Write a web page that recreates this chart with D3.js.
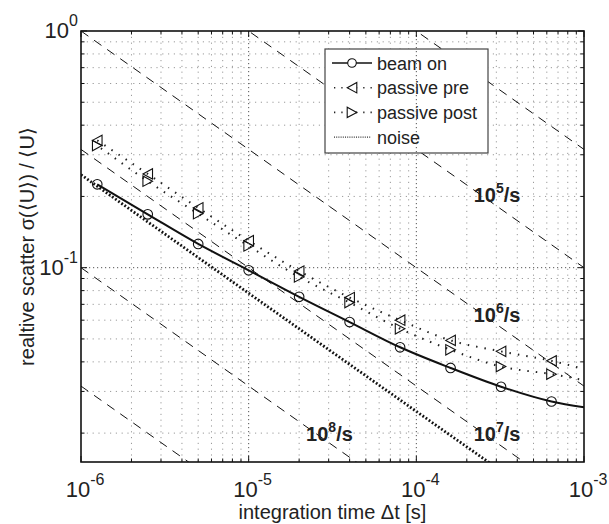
<!DOCTYPE html>
<html>
<head>
<meta charset="utf-8">
<script src="https://cdn.jsdelivr.net/npm/d3@7"></script>
<style>
  body { margin: 0; background: #fff; }
  text { font-family: "Liberation Sans", Arial, Helvetica, sans-serif; }
</style>
</head>
<body>
<svg id="chart"></svg>
<script>
// measured points (integration time in s, relative scatter)
let dt = [1.25e-6, 2.5e-6, 5e-6, 1e-5, 2e-5, 4e-5, 8e-5, 1.6e-4, 3.2e-4, 6.4e-4];
let beamOn = [0.225, 0.168, 0.126, 0.0975, 0.0753, 0.0589, 0.0461, 0.0377, 0.0314, 0.0272];
let passivePre = [0.345, 0.249, 0.179, 0.130, 0.0968, 0.0748, 0.0600, 0.0493, 0.0443, 0.0404];
let passivePost = [0.328, 0.232, 0.169, 0.1235, 0.0914, 0.0712, 0.0552, 0.0450, 0.0382, 0.0355];

// fitted curves continue to the right border
let fitEndDt = 1e-3;
let beamOnEnd = 0.0257;
let passivePreEnd = 0.0373;
let passivePostEnd = 0.0335;

// noise floor line
let noiseDt = [1e-6, 1e-5, 1e-4, 2.8e-4];
let noise = [0.247, 0.078, 0.0247, 0.0148];

// counting-statistics reference lines: value at dt = 1e-6 and at dt = 1e-3
let rates = ["4", "5", "6", "7", "8", "9"];
let rateStart = [10, 3.16, 1, 0.316, 0.1, 0.0316];
let rateEnd = [0.316, 0.1, 0.0316, 0.01, 0.00316, 0.001];
let rateLabels = [
  {exp: "5", dt: 2.2e-4, y: 0.19},
  {exp: "6", dt: 2.2e-4, y: 0.059},
  {exp: "7", dt: 2.2e-4, y: 0.0185},
  {exp: "8", dt: 2.2e-5, y: 0.0185}
];

let xTicks = [1e-6, 1e-5, 1e-4, 1e-3];
let xTickExp = ["-6", "-5", "-4", "-3"];
let yTicks = [1e-1, 1];
let yTickExp = ["-1", "0"];

let width = 609, height = 524;
let margin = {top: 31, right: 25, bottom: 62, left: 81};
let plotW = width - margin.left - margin.right;
let plotH = height - margin.top - margin.bottom;

let svg = d3.select("#chart")
    .attr("width", width)
    .attr("height", height);

let x = d3.scaleLog().domain([1e-6, 1e-3]).range([0, plotW]);
let y = d3.scaleLog().domain([0.0151, 1]).range([plotH, 0]);

let defs = svg.append("defs");
defs.append("clipPath").attr("id", "plotClip")
  .append("rect").attr("width", plotW).attr("height", plotH);

let g = svg.append("g")
    .attr("transform", "translate(" + margin.left + "," + margin.top + ")");

// minor grid
let minorX = [];
let minorY = [];
[1e-6, 1e-5, 1e-4].forEach(d => { for (let k = 2; k <= 9; k++) minorX.push(d * k); });
[0.01, 0.1].forEach(d => { for (let k = 2; k <= 9; k++) if (d * k > 0.0151) minorY.push(d * k); });

g.selectAll(".gridx")
    .data(minorX)
  .enter().append("line")
    .attr("class", "gridx")
    .attr("x1", d => x(d)).attr("x2", d => x(d))
    .attr("y1", 0).attr("y2", plotH)
    .attr("stroke", "#9a9a9a")
    .attr("stroke-width", 1)
    .attr("stroke-dasharray", "1.2,4.6");

g.selectAll(".gridy")
    .data(minorY)
  .enter().append("line")
    .attr("class", "gridy")
    .attr("y1", d => y(d)).attr("y2", d => y(d))
    .attr("x1", 0).attr("x2", plotW)
    .attr("stroke", "#9a9a9a")
    .attr("stroke-width", 1)
    .attr("stroke-dasharray", "1.2,4.6");

g.selectAll(".majory")
    .data([0.1])
  .enter().append("line")
    .attr("class", "majory")
    .attr("y1", d => y(d)).attr("y2", d => y(d))
    .attr("x1", 0).attr("x2", plotW)
    .attr("stroke", "#555")
    .attr("stroke-width", 1)
    .attr("stroke-dasharray", "1.2,2.8");

let plot = g.append("g").attr("clip-path", "url(#plotClip)");

let line = d3.line()
    .x(d => x(d[0]))
    .y(d => y(d[1]));

let smooth = d3.line()
    .x(d => x(d[0]))
    .y(d => y(d[1]))
    .curve(d3.curveMonotoneX);

// reference lines
plot.selectAll(".rate")
    .data(rates.map((r, i) => [[1e-6, rateStart[i]], [1e-3, rateEnd[i]]]))
  .enter().append("path")
    .attr("class", "rate")
    .attr("d", line)
    .attr("fill", "none")
    .attr("stroke", "#111")
    .attr("stroke-width", 1)
    .attr("stroke-dasharray", "9,7");

// noise
plot.append("path")
    .datum(noiseDt.map((d, i) => [d, noise[i]]))
    .attr("d", line)
    .attr("fill", "none")
    .attr("stroke", "#111")
    .attr("stroke-width", 2.8)
    .attr("stroke-dasharray", "1.8,2");

// passive curves
let preData = dt.map((d, i) => [d, passivePre[i]]).concat([[fitEndDt, passivePreEnd]]);
let postData = dt.map((d, i) => [d, passivePost[i]]).concat([[fitEndDt, passivePostEnd]]);

plot.append("path")
    .datum(preData)
    .attr("d", smooth)
    .attr("fill", "none")
    .attr("stroke", "#222")
    .attr("stroke-width", 2)
    .attr("stroke-dasharray", "1.5,7");

plot.append("path")
    .datum(postData)
    .attr("d", smooth)
    .attr("fill", "none")
    .attr("stroke", "#222")
    .attr("stroke-width", 2)
    .attr("stroke-dasharray", "1.5,7")
    .attr("stroke-dashoffset", 4);

// beam on
plot.append("path")
    .datum(dt.map((d, i) => [d, beamOn[i]]).concat([[fitEndDt, beamOnEnd]]))
    .attr("d", smooth)
    .attr("fill", "none")
    .attr("stroke", "#111")
    .attr("stroke-width", 2);

let triLeft = "M-4.8,0 L4.8,-5.2 L4.8,5.2 Z";
let triRight = "M4.8,0 L-4.8,-5.2 L-4.8,5.2 Z";

plot.selectAll(".pre")
    .data(passivePre)
  .enter().append("path")
    .attr("class", "pre")
    .attr("d", triLeft)
    .attr("transform", (d, i) => "translate(" + x(dt[i]) + "," + y(d) + ")")
    .attr("fill", "none")
    .attr("stroke", "#111")
    .attr("stroke-width", 1.1);

plot.selectAll(".post")
    .data(passivePost)
  .enter().append("path")
    .attr("class", "post")
    .attr("d", triRight)
    .attr("transform", (d, i) => "translate(" + x(dt[i]) + "," + y(d) + ")")
    .attr("fill", "none")
    .attr("stroke", "#111")
    .attr("stroke-width", 1.1);

plot.selectAll(".beam")
    .data(beamOn)
  .enter().append("circle")
    .attr("class", "beam")
    .attr("cx", (d, i) => x(dt[i]))
    .attr("cy", d => y(d))
    .attr("r", 4.8)
    .attr("fill", "none")
    .attr("stroke", "#111")
    .attr("stroke-width", 1.1);

// rate labels
let rl = g.selectAll(".rateLabel")
    .data(rateLabels)
  .enter().append("text")
    .attr("class", "rateLabel")
    .attr("x", d => x(d.dt))
    .attr("y", d => y(d.y))
    .attr("font-size", 20)
    .attr("font-weight", "bold")
    .attr("fill", "#222");
rl.append("tspan").text("10");
rl.append("tspan").text(d => d.exp).attr("font-size", 14).attr("dy", -9);
rl.append("tspan").text("/s").attr("dy", 9);

// legend
let legend = g.append("g").attr("transform", "translate(" + (325 - margin.left) + "," + (49 - margin.top) + ")");
legend.append("rect")
    .attr("width", 163).attr("height", 104)
    .attr("fill", "#fff")
    .attr("stroke", "#444")
    .attr("stroke-width", 1.2);

let legendItems = ["beam on", "passive pre", "passive post", "noise"];
legendItems.forEach((name, i) => {
  let ly = 14 + i * 24.7;
  let row = legend.append("g").attr("transform", "translate(0," + ly + ")");
  if (i === 0) {
    row.append("line").attr("x1", 7).attr("x2", 47).attr("stroke", "#111").attr("stroke-width", 1.4);
    row.append("circle").attr("cx", 27).attr("r", 4.3).attr("fill", "#fff").attr("stroke", "#111").attr("stroke-width", 1.1);
  } else if (i === 1 || i === 2) {
    row.append("line").attr("x1", 9).attr("x2", 47)
        .attr("stroke", "#222").attr("stroke-width", 1.6).attr("stroke-dasharray", "1.3,6");
    row.append("path").attr("d", i === 1 ? triLeft : triRight)
        .attr("transform", "translate(27,0)")
        .attr("fill", "#fff").attr("stroke", "#111").attr("stroke-width", 1.1);
  } else {
    row.append("line").attr("x1", 9).attr("x2", 46)
        .attr("stroke", "#333").attr("stroke-width", 1.2).attr("stroke-dasharray", "1,1.2");
  }
  row.append("text")
      .attr("x", 52).attr("y", 6.5)
      .attr("font-size", 18)
      .attr("fill", "#222")
      .text(name);
});

// major vertical grid drawn last so it crosses the legend
g.selectAll(".majorx")
    .data([1e-5, 1e-4])
  .enter().append("line")
    .attr("class", "majorx")
    .attr("x1", d => x(d)).attr("x2", d => x(d))
    .attr("y1", 0).attr("y2", plotH)
    .attr("stroke", "#555")
    .attr("stroke-width", 1)
    .attr("stroke-dasharray", "1.2,2.8");

// ticks on all sides
let allMinorX = minorX.concat(xTicks);
let allMinorY = minorY.concat([0.1, 1]);
g.selectAll(".tickb")
    .data(allMinorX)
  .enter().append("line")
    .attr("x1", d => x(d)).attr("x2", d => x(d))
    .attr("y1", plotH).attr("y2", d => plotH - (xTicks.includes(d) ? 6 : 3.5))
    .attr("stroke", "#111");
g.selectAll(".tickt")
    .data(allMinorX)
  .enter().append("line")
    .attr("x1", d => x(d)).attr("x2", d => x(d))
    .attr("y1", 0).attr("y2", d => (xTicks.includes(d) ? 6 : 3.5))
    .attr("stroke", "#111");
g.selectAll(".tickl")
    .data(allMinorY)
  .enter().append("line")
    .attr("y1", d => y(d)).attr("y2", d => y(d))
    .attr("x1", 0).attr("x2", d => (yTicks.includes(d) ? 6 : 3.5))
    .attr("stroke", "#111");
g.selectAll(".tickr")
    .data(allMinorY)
  .enter().append("line")
    .attr("y1", d => y(d)).attr("y2", d => y(d))
    .attr("x1", plotW).attr("x2", d => plotW - (yTicks.includes(d) ? 6 : 3.5))
    .attr("stroke", "#111");

g.append("rect")
    .attr("width", plotW).attr("height", plotH)
    .attr("fill", "none")
    .attr("stroke", "#111")
    .attr("stroke-width", 1.6);

// tick labels
let xl = g.selectAll(".xlab")
    .data(xTicks)
  .enter().append("text")
    .attr("x", d => x(d) + 4)
    .attr("y", plotH + 35)
    .attr("text-anchor", "middle")
    .attr("font-size", 22)
    .attr("fill", "#222");
xl.append("tspan").text("10");
xl.append("tspan").text((d, i) => xTickExp[i]).attr("font-size", 16).attr("dy", -12);

let yl = g.selectAll(".ylab")
    .data(yTicks)
  .enter().append("text")
    .attr("x", -3)
    .attr("y", d => y(d) + 7)
    .attr("text-anchor", "end")
    .attr("font-size", 22)
    .attr("fill", "#222");
yl.append("tspan").text("10");
yl.append("tspan").text((d, i) => yTickExp[i]).attr("font-size", 16).attr("dy", -12);

// axis titles
g.append("text")
    .attr("x", plotW / 2)
    .attr("y", plotH + 57)
    .attr("text-anchor", "middle")
    .attr("font-size", 20)
    .attr("fill", "#222")
    .text("integration time \u0394t [s]");

g.append("text")
    .attr("transform", "translate(-47," + (plotH / 2) + ") rotate(-90)")
    .attr("text-anchor", "middle")
    .attr("font-size", 20)
    .attr("fill", "#222")
    .text("realtive scatter \u03c3(\u27e8U\u27e9) / \u27e8U\u27e9");
</script>
</body>
</html>
